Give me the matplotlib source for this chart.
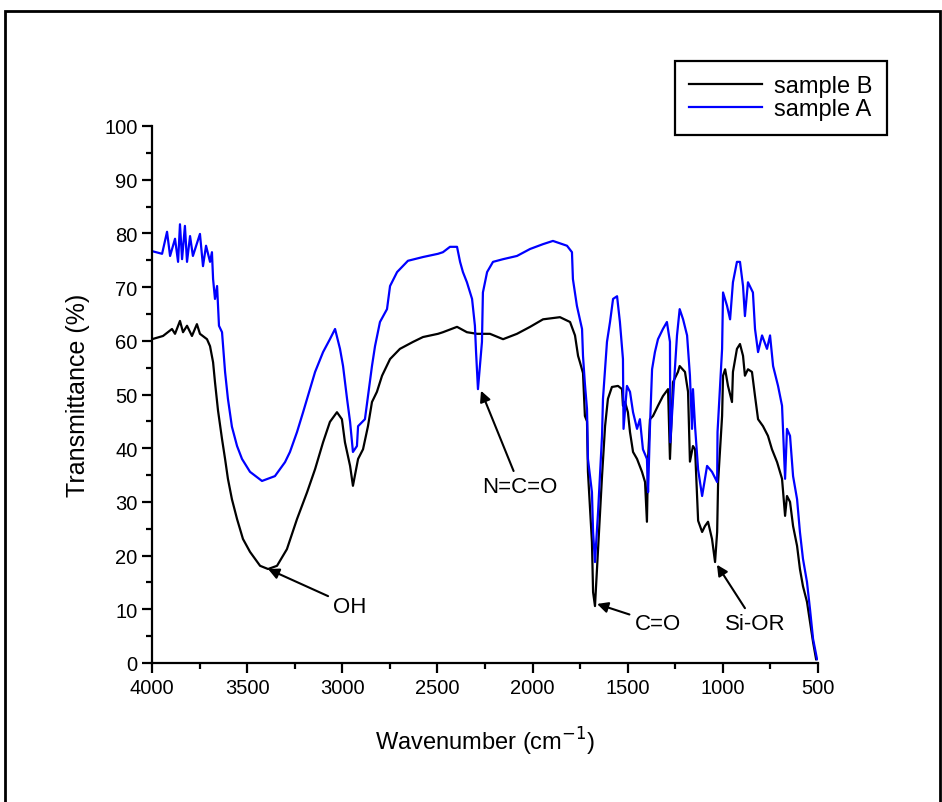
import matplotlib

matplotlib.use("Agg")
import matplotlib.pyplot as plt
from matplotlib.patches import Rectangle
from matplotlib.ticker import MultipleLocator

plt.rcParams["font.family"] = ["Liberation Sans", "DejaVu Sans"]

# sample A (blue)
wn_a = [4000, 3947, 3921, 3905, 3879, 3863, 3853, 3842, 3827, 3816, 3800, 3785, 3748, 3732,
        3716, 3695, 3685, 3679, 3669, 3658, 3648, 3632, 3616, 3601, 3580, 3553, 3527, 3485,
        3422, 3354, 3301, 3275, 3238, 3206, 3143, 3101, 3065, 3038, 3012, 2996, 2975, 2959,
        2944, 2923, 2917, 2881, 2865, 2844, 2828, 2802, 2765, 2749, 2712, 2655, 2576, 2497,
        2471, 2434, 2397, 2381, 2366, 2345, 2318, 2303, 2297, 2287, 2266, 2261, 2239, 2208,
        2155, 2082, 2013, 1945, 1893, 1819, 1793, 1788, 1767, 1740, 1735, 1725, 1714, 1709,
        1688, 1682, 1672, 1656, 1635, 1630, 1619, 1609, 1593, 1577, 1556, 1541, 1525, 1522,
        1504, 1488, 1472, 1451, 1436, 1420, 1399, 1393, 1383, 1372, 1357, 1341, 1315, 1294,
        1278, 1276, 1262, 1241, 1227, 1209, 1188, 1173, 1162, 1157, 1146, 1130, 1109, 1083,
        1057, 1030, 1028, 1004, 999, 978, 962, 947, 926, 910, 894, 884, 868, 842, 831, 815,
        794, 768, 752, 736, 710, 689, 673, 663, 647, 631, 610, 595, 579, 558, 542, 526, 505]
t_a = [76.7, 76.2, 80.3, 75.8, 79.0, 74.7, 81.7, 75.2, 81.4, 74.7, 79.5, 75.8, 79.9, 73.9,
       77.7, 74.7, 76.5, 71.5, 67.8, 70.2, 62.8, 61.6, 54.2, 49.2, 44.0, 40.4, 38.0, 35.6,
       33.9, 34.8, 37.4, 39.3, 43.0, 46.7, 54.2, 57.9, 60.3, 62.2, 58.5, 55.3, 49.2, 44.9,
       39.3, 40.4, 44.1, 45.4, 49.7, 55.3, 59.0, 63.5, 65.9, 70.2, 72.8, 74.9, 75.6, 76.2,
       76.5, 77.5, 77.5, 74.7, 72.8, 70.9, 67.8, 62.8, 57.9, 51.0, 59.8, 69.0, 72.8, 74.7,
       75.2, 75.8, 77.1, 78.0, 78.6, 77.7, 76.5, 71.5, 66.5, 62.2, 57.2, 52.0, 47.3, 38.0,
       31.8, 24.4, 18.8, 28.0, 42.3, 49.2, 54.7, 59.8, 63.5, 67.8, 68.3, 63.5, 56.6, 43.6,
       51.6, 50.5, 46.7, 43.6, 45.4, 39.8, 38.0, 31.8, 44.1, 54.7, 57.9, 60.3, 62.2, 63.5,
       59.8, 41.1, 49.2, 61.0, 65.9, 64.0, 61.0, 53.5, 43.6, 51.0, 44.0, 36.0, 31.1, 36.7,
       35.6, 33.7, 43.0, 58.5, 69.0, 66.5, 64.0, 70.9, 74.7, 74.7, 70.2, 64.6, 70.9, 69.0,
       62.2, 57.9, 61.0, 58.5, 61.0, 55.3, 51.6, 47.9, 34.3, 43.6, 42.3, 34.8, 30.5, 24.4,
       19.4, 15.1, 10.0, 4.5, 0.7]

# sample B (black)
wn_b = [4000, 3942, 3895, 3879, 3853, 3837, 3816, 3790, 3764, 3748, 3711, 3695, 3679, 3669,
        3653, 3632, 3616, 3601, 3580, 3553, 3522, 3485, 3432, 3390, 3343, 3291, 3238, 3185,
        3143, 3101, 3065, 3028, 3002, 2986, 2959, 2944, 2917, 2891, 2865, 2844, 2818, 2791,
        2749, 2697, 2628, 2576, 2497, 2471, 2397, 2345, 2292, 2224, 2155, 2082, 2013, 1945,
        1856, 1803, 1777, 1761, 1751, 1735, 1725, 1714, 1709, 1688, 1682, 1672, 1656, 1635,
        1619, 1604, 1583, 1551, 1530, 1525, 1514, 1499, 1488, 1472, 1451, 1425, 1409, 1399,
        1393, 1383, 1367, 1341, 1315, 1288, 1278, 1262, 1236, 1227, 1199, 1183, 1173, 1157,
        1146, 1130, 1109, 1094, 1078, 1057, 1041, 1030, 1025, 1004, 999, 988, 973, 952, 947,
        926, 910, 894, 884, 868, 847, 831, 815, 789, 763, 742, 715, 689, 673, 663, 647, 631,
        610, 595, 579, 558, 542, 526, 510]
t_b = [60.3, 60.9, 62.2, 61.3, 63.7, 61.6, 62.8, 60.9, 63.1, 61.3, 60.3, 59.0, 56.0, 52.3,
       47.0, 41.7, 38.0, 34.3, 30.5, 26.8, 23.1, 20.7, 18.1, 17.5, 18.1, 21.2, 26.8, 31.8,
       36.1, 41.1, 44.9, 46.7, 45.4, 41.1, 36.7, 33.0, 38.0, 39.8, 44.1, 48.6, 50.5, 53.5,
       56.6, 58.5, 59.8, 60.7, 61.3, 61.6, 62.6, 61.6, 61.3, 61.3, 60.3, 61.3, 62.6, 64.0,
       64.4, 63.5, 61.0, 57.2, 56.0, 54.0, 46.0, 45.0, 35.6, 22.5, 13.2, 10.6, 21.2, 34.8,
       44.1, 49.2, 51.4, 51.6, 51.0, 47.9, 48.6, 46.7, 43.0, 39.3, 38.0, 35.6, 33.7, 26.3,
       38.0, 45.4, 46.0, 47.9, 49.7, 51.0, 38.0, 52.3, 54.2, 55.3, 54.2, 50.5, 37.5, 40.4,
       39.8, 26.5, 24.4, 25.5, 26.3, 23.1, 18.8, 24.4, 33.7, 46.0, 53.5, 54.7, 51.6, 48.6,
       54.2, 58.5, 59.4, 57.2, 53.5, 54.7, 54.2, 49.7, 45.4, 44.1, 42.3, 39.8, 37.4, 34.3,
       27.4, 31.1, 30.0, 25.5, 21.8, 17.5, 14.3, 11.4, 7.6, 3.9, 0.7]

# (label, text position, arrow tip) in data units
peak_labels = [
    ("OH", (2959, 10.6), (3390, 17.5)),
    ("N=C=O", (2066, 32.8), (2271, 50.7)),
    ("C=O", (1341, 7.3), (1661, 11.0)),
    ("Si-OR", (831, 7.3), (1031, 18.3)),
]

fig = plt.figure(figsize=(9.42, 8.03), dpi=100)
ax = fig.add_axes([152 / 942, 1 - 664 / 803, 666 / 942, 537 / 803])

line_b, = ax.plot(wn_b, t_b, color="black", lw=1.6, label="sample B")
line_a, = ax.plot(wn_a, t_a, color="#0000ff", lw=1.6, label="sample A")

for text, xytext, xy in peak_labels:
    ax.annotate(text, xy=xy, xytext=xytext, fontsize=16, ha="center", va="center",
                arrowprops=dict(arrowstyle="-|>", color="black", lw=1.5,
                                mutation_scale=16, shrinkA=2, shrinkB=0))

ax.set_xlim(4000, 500)
ax.set_ylim(0, 100)
ax.xaxis.set_major_locator(MultipleLocator(500))
ax.xaxis.set_minor_locator(MultipleLocator(250))
ax.yaxis.set_major_locator(MultipleLocator(10))
ax.yaxis.set_minor_locator(MultipleLocator(5))
for side in ("top", "right"):
    ax.spines[side].set_visible(False)
for side in ("left", "bottom"):
    ax.spines[side].set_linewidth(1.6)
ax.tick_params(which="major", direction="out", length=7, width=1.6, labelsize=14.5)
ax.tick_params(which="minor", direction="out", length=4, width=1.6)
ax.set_xlabel("Wavenumber (cm$^{-1}$)", fontsize=17, labelpad=20)
ax.set_ylabel("Transmittance (%)", fontsize=18, labelpad=10)

fig.legend(handles=[line_b, line_a], loc="upper left",
           bbox_to_anchor=(675 / 942, 1 - 62 / 803), borderaxespad=0,
           fontsize=17, handlelength=3.1, fancybox=False, edgecolor="black",
           framealpha=1, borderpad=0.6, labelspacing=0.05, handletextpad=0.5)
frame = fig.legends[0].get_frame()
frame.set_linewidth(1.6)

fig.patches.append(Rectangle((5 / 942, -0.01), 935 / 942, 1.01 - 12 / 803,
                             transform=fig.transFigure, fill=False,
                             edgecolor="black", lw=2, figure=fig))

fig.savefig("out.png", dpi=100)
